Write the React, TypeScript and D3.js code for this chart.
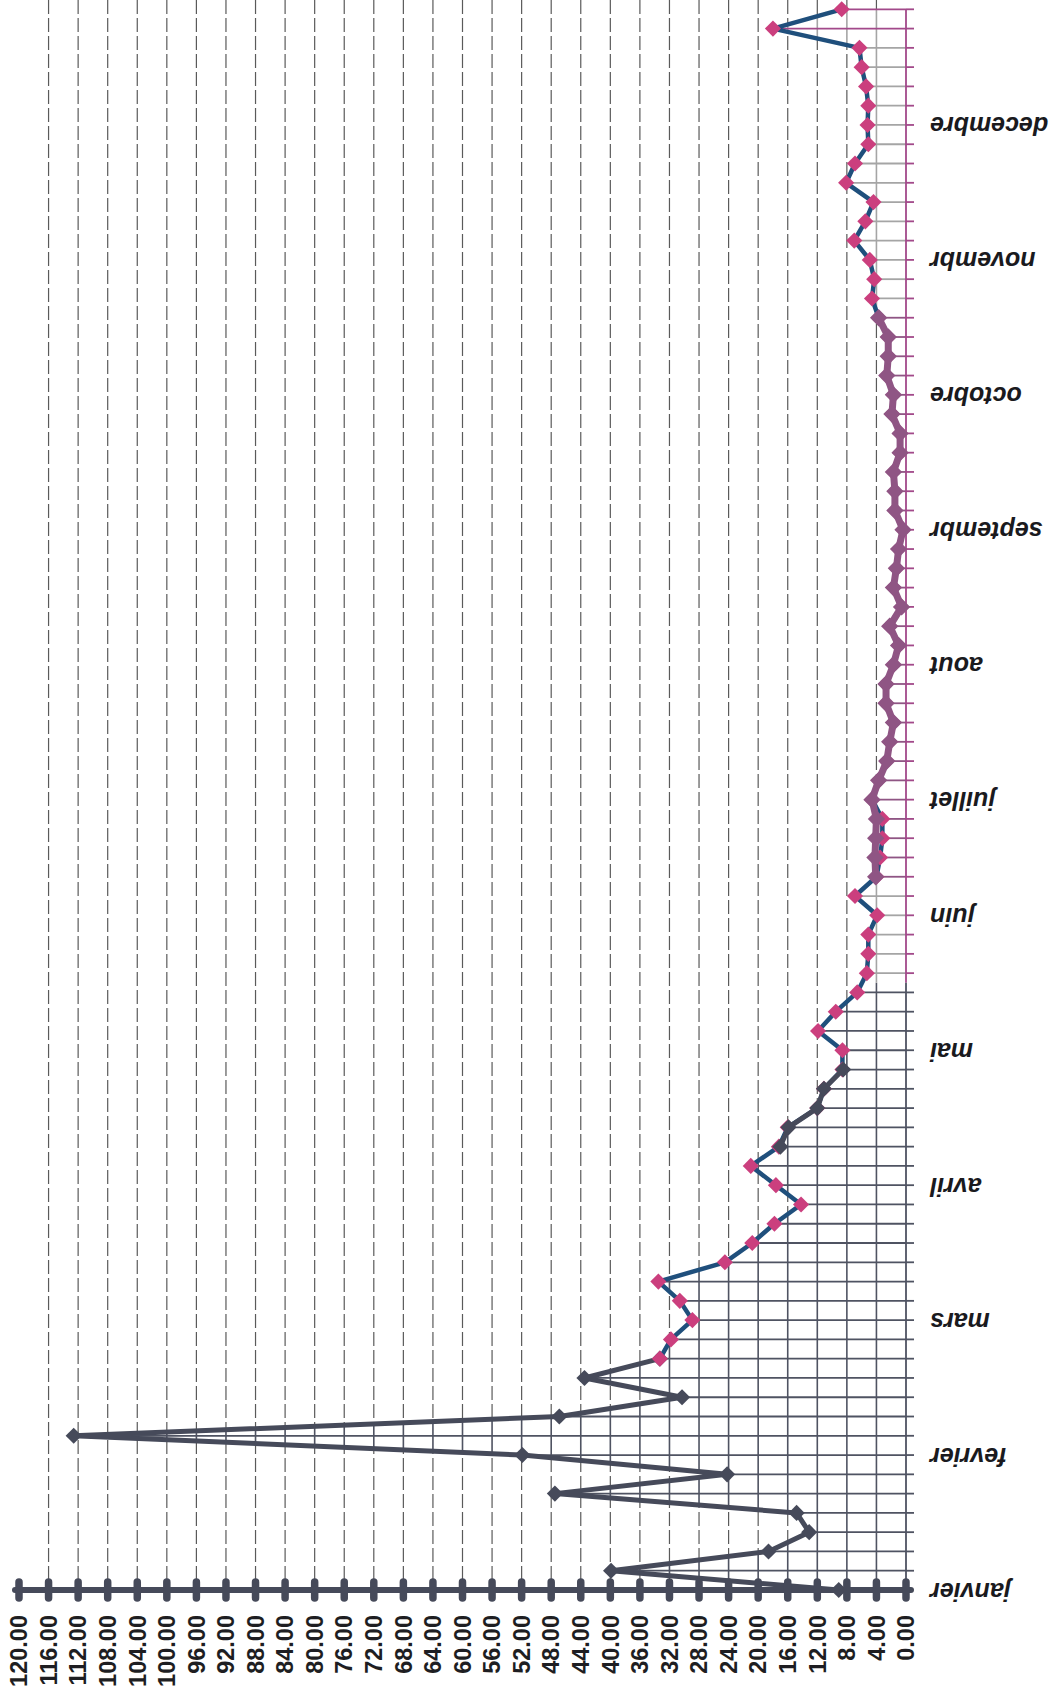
import { useEffect, useRef } from 'react'
import * as d3 from 'd3'

const WIDTH = 1056
const HEIGHT = 1696
const AXIS_Y = 1590
const TOP_Y = 9.3
const ZERO_X = 906
const MAX_X = 19
const SPLIT_INDEX = 31.5

const CATEGORY_COUNT = 83
const monthLabels = ['janvier', 'fevrier', 'mars', 'avril', 'mai', 'juin', 'juillet', 'aout', 'septembr', 'octobre', 'novembr', 'decembre']
const monthIndex = [0, 7, 14, 21, 28, 35, 41, 48, 55, 62, 69, 76]
const valueTicks = [0, 4, 8, 12, 16, 20, 24, 28, 32, 36, 40, 44, 48, 52, 56, 60, 64, 68, 72, 76, 80, 84, 88, 92, 96, 100, 104, 108, 112, 116, 120]

// dark series, first part (janvier -> mars)
const darkStartA = 0
const darkValuesA = [9.1, 39.9, 18.6, 13.1, 14.8, 47.5, 24.2, 51.9, 112.6, 46.9, 30.3, 43.5, 33.3]
// dark series, second part (avril -> mai)
const darkStartB = 23
const darkValuesB = [17.0, 15.9, 12.0, 11.1, 8.5]
// blue line / pink markers (mars -> decembre)
const pinkStart = 12
const pinkValues = [
  33.3, 31.8, 28.9, 30.6, 33.5, 24.5, 20.8, 17.8, 14.2, 17.6, 21.0, 17.2, 16.0, 12.0, 11.1, 8.6, 8.6, 11.9, 9.5, 6.6,
  5.3, 5.1, 5.1, 3.9, 6.9, 4.0, 3.5, 3.2, 3.2, 4.6, 3.7, 2.6, 2.2, 1.7, 2.7, 2.7, 1.7, 1.0, 2.2, 0.6,
  1.7, 1.3, 1.0, 0.4, 1.5, 1.5, 1.7, 0.8, 0.8, 1.9, 1.7, 2.6, 2.4, 2.4, 3.7, 4.6, 4.3, 4.9, 7.0, 5.5,
  4.4, 8.1, 6.9, 5.1, 5.2, 5.1, 5.4, 6.0, 6.3, 18.0, 8.7,
]
// mauve series (juillet -> octobre)
const mauveStart = 37
const mauveValues = [
  4.1, 4.2, 4.1, 4.0, 4.6, 3.7, 2.6, 2.2, 1.7, 2.7, 2.7, 1.7, 1.0, 2.2, 0.6, 1.7, 1.3, 1.0, 0.4, 1.5,
  1.5, 1.7, 0.8, 0.8, 1.9, 1.7, 2.6, 2.4, 2.4, 3.7,
]

const DARK = '#464a5a'
const BLUE = '#1f4f7c'
const PINK = '#cb3f7e'
const MAUVE = '#8f5584'
const MAGENTA = '#a2498a'
const LIGHT = '#a5a5a5'

type Pt = { i: number; v: number }

const toPoints = (start: number, values: number[]): Pt[] => values.map((v, k) => ({ i: start + k, v }))

export default function App() {
  const svgRef = useRef<SVGSVGElement>(null)

  useEffect(() => {
    if (!svgRef.current) return
    const svg = d3.select(svgRef.current)
    svg.selectAll('*').remove()

    const x = d3.scaleLinear().domain([0, 120]).range([ZERO_X, MAX_X])
    const y = d3.scaleLinear().domain([0, CATEGORY_COUNT - 1]).range([AXIS_Y, TOP_Y])

    const darkA = toPoints(darkStartA, darkValuesA)
    const darkB = toPoints(darkStartB, darkValuesB)
    const pink = toPoints(pinkStart, pinkValues)
    const mauve = toPoints(mauveStart, mauveValues)

    // outer envelope of all series (area between curve and 0)
    const all = [...darkA, ...darkB, ...pink, ...mauve]
    const envelope: Pt[] = d3.range(CATEGORY_COUNT).map((i) => ({
      i,
      v: d3.max(all.filter((p) => p.i === i), (p) => p.v) ?? 0,
    }))

    const splitY = y(SPLIT_INDEX)

    // dashed vertical gridlines
    svg.append('g')
      .selectAll('line')
      .data(valueTicks.filter((t) => t > 0 && t < 120))
      .join('line')
      .attr('x1', (d) => x(d)).attr('x2', (d) => x(d))
      .attr('y1', 0).attr('y2', AXIS_Y)
      .attr('stroke', '#5a5a5a')
      .attr('stroke-width', 1.2)
      .attr('stroke-dasharray', '14 4')

    // solid grid under the curve
    const area = d3.area<Pt>().y((d) => y(d.i)).x0(x(0)).x1((d) => x(d.v))
    svg.append('defs').append('clipPath').attr('id', 'under')
      .append('path').attr('d', area(envelope) ?? '')

    const under = svg.append('g').attr('clip-path', 'url(#under)')
    under.append('rect').attr('x', 0).attr('y', 0).attr('width', ZERO_X).attr('height', AXIS_Y).attr('fill', '#fff')
    const solidTicks = valueTicks.filter((t) => t > 0)
    under.selectAll('line.low')
      .data(solidTicks)
      .join('line')
      .attr('class', 'low')
      .attr('x1', (d) => x(d)).attr('x2', (d) => x(d))
      .attr('y1', splitY).attr('y2', AXIS_Y)
      .attr('stroke', '#4f5362').attr('stroke-width', 1.6)
    under.selectAll('line.high')
      .data(solidTicks)
      .join('line')
      .attr('class', 'high')
      .attr('x1', (d) => x(d)).attr('x2', (d) => x(d))
      .attr('y1', 0).attr('y2', splitY)
      .attr('stroke', LIGHT).attr('stroke-width', 1.6)

    // drop lines
    const dropColor = (i: number) => {
      if (i <= 31) return '#4f5362'
      if (i >= 37 && i <= 66) return MAUVE
      if (i >= 81) return MAGENTA
      return LIGHT
    }
    svg.append('g')
      .selectAll('line')
      .data(envelope)
      .join('line')
      .attr('x1', (d) => x(d.v)).attr('x2', ZERO_X)
      .attr('y1', (d) => y(d.i)).attr('y2', (d) => y(d.i))
      .attr('stroke', (d) => dropColor(d.i))
      .attr('stroke-width', 1.8)

    // category axis (value 0)
    svg.append('line')
      .attr('x1', ZERO_X).attr('x2', ZERO_X).attr('y1', y(CATEGORY_COUNT - 1)).attr('y2', splitY)
      .attr('stroke', MAGENTA).attr('stroke-width', 1.8)
    svg.append('line')
      .attr('x1', ZERO_X).attr('x2', ZERO_X).attr('y1', splitY).attr('y2', AXIS_Y)
      .attr('stroke', '#4f5362').attr('stroke-width', 1.8)
    svg.append('g')
      .selectAll('line')
      .data(d3.range(1, CATEGORY_COUNT))
      .join('line')
      .attr('x1', ZERO_X).attr('x2', ZERO_X + 8)
      .attr('y1', (d) => y(d)).attr('y2', (d) => y(d))
      .attr('stroke', (d) => (d >= 32 ? MAGENTA : '#4f5362'))
      .attr('stroke-width', 1.8)

    const line = d3.line<Pt>().x((d) => x(d.v)).y((d) => y(d.i))
    const diamond = d3.symbol(d3.symbolSquare, 100)

    const drawSeries = (pts: Pt[], lineColor: string, lineWidth: number, markerColor: string, markerSize: number) => {
      const g = svg.append('g')
      g.append('path')
        .attr('d', line(pts) ?? '')
        .attr('fill', 'none')
        .attr('stroke', lineColor)
        .attr('stroke-width', lineWidth)
        .attr('stroke-linejoin', 'round')
      g.selectAll('path.m')
        .data(pts)
        .join('path')
        .attr('class', 'm')
        .attr('d', diamond.size(markerSize)() ?? '')
        .attr('transform', (d) => `translate(${x(d.v)},${y(d.i)}) rotate(45)`)
        .attr('fill', markerColor)
    }

    drawSeries(darkA, DARK, 5, DARK, 130)
    drawSeries(pink, BLUE, 4.5, PINK, 130)
    drawSeries(mauve, MAUVE, 7, MAUVE, 150)
    drawSeries(darkB, DARK, 5, DARK, 130)

    // value axis
    const axisG = svg.append('g')
    axisG.append('line')
      .attr('x1', x(120) - 4).attr('x2', ZERO_X + 5)
      .attr('y1', AXIS_Y).attr('y2', AXIS_Y)
      .attr('stroke', DARK).attr('stroke-width', 6).attr('stroke-linecap', 'round')
    axisG.selectAll('line.tick')
      .data(valueTicks)
      .join('line')
      .attr('class', 'tick')
      .attr('x1', (d) => x(d)).attr('x2', (d) => x(d))
      .attr('y1', AXIS_Y - 8).attr('y2', AXIS_Y + 8)
      .attr('stroke', DARK).attr('stroke-width', 7.5).attr('stroke-linecap', 'round')
    axisG.selectAll('text')
      .data(valueTicks)
      .join('text')
      .attr('transform', (d) => `translate(${x(d)},${AXIS_Y + 25}) rotate(-90)`)
      .attr('dy', '0.35em')
      .attr('text-anchor', 'end')
      .attr('font-family', '"Liberation Sans", Arial, sans-serif')
      .attr('font-weight', 'bold')
      .attr('font-size', 23.5)
      .attr('fill', '#1e1e22')
      .text((d) => d3.format('.2f')(d))

    // month labels (upside down)
    svg.append('g')
      .selectAll('text')
      .data(monthLabels)
      .join('text')
      .attr('transform', (_d, k) => `translate(930,${y(monthIndex[k])}) rotate(180)`)
      .attr('dy', '0.3em')
      .attr('text-anchor', 'end')
      .attr('font-family', '"Liberation Sans", Arial, sans-serif')
      .attr('font-weight', 'bold')
      .attr('font-style', 'italic')
      .attr('font-size', 25)
      .attr('fill', '#1a1a1e')
      .text((d) => d)
  }, [])

  return (
    <div style={{ position: 'absolute', left: 0, top: 0, background: '#fff' }}>
      <svg ref={svgRef} width={WIDTH} height={HEIGHT} style={{ display: 'block' }} />
    </div>
  )
}
